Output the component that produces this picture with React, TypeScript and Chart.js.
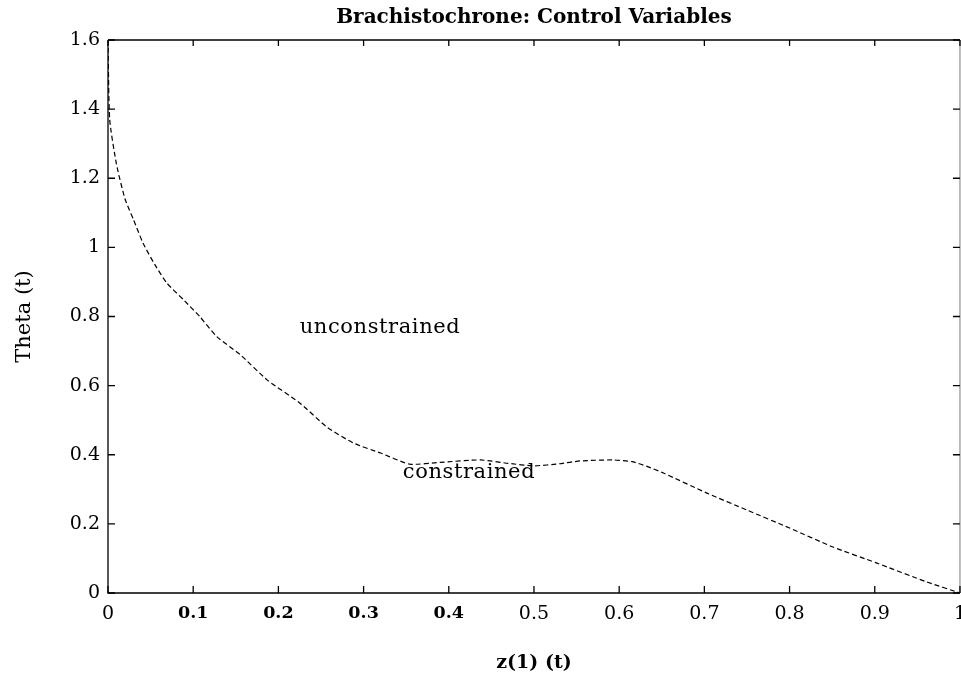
import React, { useEffect, useRef } from "react";
import { Chart, registerables } from "chart.js";

Chart.register(...registerables);

const xValues = [0, 0.002, 0.01, 0.02, 0.03, 0.041, 0.055, 0.069, 0.09, 0.108, 0.128, 0.155, 0.187, 0.225, 0.257, 0.288, 0.32, 0.354, 0.39, 0.437, 0.47, 0.5, 0.53, 0.554, 0.593, 0.615, 0.632, 0.652, 0.703, 0.75, 0.8, 0.851, 0.902, 0.961, 1.0];
const thetaValues = [1.6, 1.37, 1.24, 1.14, 1.08, 1.013, 0.95, 0.897, 0.845, 0.799, 0.741, 0.69, 0.616, 0.55, 0.48, 0.434, 0.405, 0.373, 0.378, 0.385, 0.375, 0.368, 0.374, 0.382, 0.385, 0.38, 0.367, 0.347, 0.289, 0.24, 0.188, 0.133, 0.087, 0.032, 0.0];

const xTickValues = [0, 0.1, 0.2, 0.3, 0.4, 0.5, 0.6, 0.7, 0.8, 0.9, 1];
const yTickValues = [0, 0.2, 0.4, 0.6, 0.8, 1, 1.2, 1.4, 1.6];

const noteLabels = ["unconstrained", "constrained"];
const noteX = [0.225, 0.346];
const noteY = [0.752, 0.333];

const titleText = "Brachistochrone: Control Variables";
const xTitle = "z(1) (t)";
const yTitle = "Theta (t)";

const FONT = "'DejaVu Serif', serif";
const INK = "#000";

const framePlugin = {
  id: "frame",
  afterDraw(chart: any) {
    const { ctx, chartArea, scales } = chart;
    const { left, right, top, bottom } = chartArea;
    ctx.save();
    ctx.strokeStyle = INK;
    ctx.lineWidth = 1.3;
    ctx.beginPath();
    ctx.moveTo(left, top);
    ctx.lineTo(right, top);
    ctx.moveTo(left, top);
    ctx.lineTo(left, bottom);
    ctx.lineTo(right, bottom);
    ctx.stroke();
    ctx.strokeStyle = "#999";
    ctx.beginPath();
    ctx.moveTo(right, top);
    ctx.lineTo(right, bottom);
    ctx.stroke();
    ctx.strokeStyle = INK;
    ctx.beginPath();
    for (const v of yTickValues) {
      const py = scales.y.getPixelForValue(v);
      ctx.moveTo(left, py);
      ctx.lineTo(left + 7, py);
      ctx.moveTo(right, py);
      ctx.lineTo(right - 7, py);
    }
    for (const v of xTickValues) {
      const px = scales.x.getPixelForValue(v);
      ctx.moveTo(px, bottom);
      ctx.lineTo(px, bottom - 7);
      ctx.moveTo(px, top);
      ctx.lineTo(px, top + 6);
    }
    ctx.stroke();
    ctx.fillStyle = INK;
    ctx.font = `21px ${FONT}`;
    try { (ctx as any).letterSpacing = "0.6px"; } catch (e) {}
    ctx.textAlign = "left";
    ctx.textBaseline = "alphabetic";
    noteLabels.forEach((t, i) => {
      ctx.fillText(t, scales.x.getPixelForValue(noteX[i]), scales.y.getPixelForValue(noteY[i]));
    });
    ctx.restore();
  },
};

export default function App() {
  const ref = useRef<HTMLCanvasElement | null>(null);
  useEffect(() => {
    if (!ref.current) return;
    const chart = new Chart(ref.current, {
      type: "line",
      data: {
        datasets: [
          {
            data: xValues.map((x, i) => ({ x, y: thetaValues[i] })),
            borderColor: INK,
            borderWidth: 1.2,
            borderDash: [5, 3],
            pointRadius: 0,
            fill: false,
            tension: 0.2,
          },
        ],
      },
      options: {
        responsive: false,
        animation: false,
        devicePixelRatio: 1,
        layout: { padding: 0 },
        plugins: {
          legend: { display: false },
          tooltip: { enabled: false },
          title: {
            display: true,
            text: titleText,
            fullSize: false,
            color: INK,
            font: { family: FONT, size: 20, weight: "bold" },
            padding: { top: 6, bottom: 10 },
          },
        },
        scales: {
          x: {
            type: "linear",
            min: 0,
            max: 1,
            grid: { display: false, drawTicks: false },
            border: { display: false },
            afterBuildTicks: (s: any) => {
              s.ticks = xTickValues.map((v) => ({ value: v }));
            },
            afterFit: (s: any) => {
              s.height = 90;
            },
            ticks: {
              autoSkip: false,
              maxRotation: 0,
              padding: 10,
              color: INK,
              font: (c: any) => {
                const b = c.index >= 1 && c.index <= 4;
                return { family: FONT, size: b ? 17.5 : 19, weight: b ? "bold" : "normal" };
              },
              callback: (v: any) => String(Math.round(Number(v) * 10) / 10),
            },
            title: {
              display: true,
              text: xTitle,
              color: INK,
              font: { family: FONT, size: 19, weight: "bold" },
              padding: { top: 0, bottom: 9 },
            },
          },
          y: {
            type: "linear",
            min: 0,
            max: 1.6,
            grid: { display: false, drawTicks: false },
            border: { display: false },
            afterBuildTicks: (s: any) => {
              s.ticks = yTickValues.map((v) => ({ value: v }));
            },
            afterFit: (s: any) => {
              s.width = 108;
            },
            ticks: {
              padding: 8,
              color: INK,
              font: { family: FONT, size: 19 },
              callback: (v: any) => String(Math.round(Number(v) * 10) / 10),
            },
            title: {
              display: true,
              text: yTitle,
              color: INK,
              font: { family: FONT, size: 21 },
              padding: { top: 12, bottom: 0 },
            },
          },
        },
      },
      plugins: [framePlugin],
    } as any);
    return () => chart.destroy();
  }, []);
  return (
    <div
      style={{
        position: "absolute",
        left: 0,
        top: 0,
        width: 961,
        height: 683,
        overflow: "hidden",
        background: "#fff",
      }}
    >
      <canvas ref={ref} width={976} height={683} style={{ display: "block", width: 976, height: 683 }} />
    </div>
  );
}
